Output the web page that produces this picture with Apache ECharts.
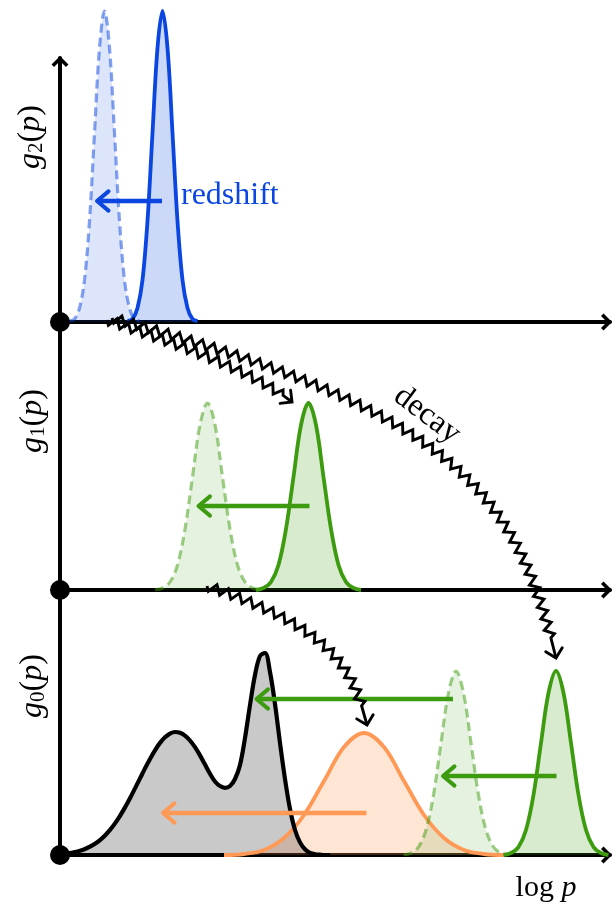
<!DOCTYPE html>
<html><head><meta charset="utf-8">
<script src="https://cdn.jsdelivr.net/npm/echarts@6/dist/echarts.min.js"></script>
<style>html,body{margin:0;padding:0;background:#fff}#c{width:616px;height:905px}</style>
</head><body><div id="c"></div>
<script>
// ---------- data (x: log p, arbitrary units 0..110 ; y: g(p), arbitrary units) ----------
// top panel g2(p)
const blueOldX = [1.9,2.9,3.9,4.9,5.9,6.9,7.9,8.9,9.9,10.9,11.9,12.9,13.9,14.9,15.9];
const blueOldY = [0.01,0.03,0.14,0.42,1.01,1.89,2.74,3.11,2.74,1.89,1.01,0.42,0.14,0.03,0.01];
const blueNewX = [13.5,14.5,15.5,16.5,17.5,18.5,19.5,20.5,21.5,22.5,23.5,24.5,25.5,26.5,27.5];
const blueNewY = [0.01,0.03,0.14,0.42,1.01,1.89,2.74,3.11,2.74,1.89,1.01,0.42,0.14,0.03,0.01];
// middle panel g1(p)
const greenMidOldX = [19.0,20.5,22.0,23.5,25.0,26.5,28.0,29.5,31.0,32.5,34.0,35.5,37.0,38.5,40.0];
const greenMidOldY = [0.00,0.02,0.08,0.25,0.61,1.13,1.65,1.87,1.65,1.13,0.61,0.25,0.08,0.02,0.00];
const greenMidNewX = [39.2,40.7,42.2,43.7,45.2,46.7,48.2,49.7,51.2,52.7,54.2,55.7,57.2,58.7,60.2];
const greenMidNewY = [0.00,0.02,0.08,0.25,0.61,1.13,1.65,1.87,1.65,1.13,0.61,0.25,0.08,0.02,0.00];
// bottom panel g0(p)
const blackX = [0,1,2,3,4,5,6,7,8,9,10,11,12,13,14,15,16,17,18,19,20,21,22,23,24,25,26,27,28,29,30,31,32,33,34,35,36,37,38,39,40,41,42,43,44,45,46,47,48,49,50,51,52,53,54];
const blackY = [0.01,0.014,0.02,0.029,0.042,0.06,0.083,0.112,0.149,0.195,0.251,0.316,0.391,0.476,0.568,0.666,0.766,0.866,0.961,1.047,1.121,1.177,1.214,1.23,1.223,1.194,1.145,1.078,0.996,0.904,0.812,0.735,0.69,0.672,0.69,0.76,0.9,1.17,1.5,1.8,1.99,2.02,1.83,1.51,1.12,0.76,0.46,0.25,0.126,0.057,0.022,0.008,0.003,0.00,0.00];
const orangeX = [32.8,36.8,40.8,44.8,48.8,52.8,56.8,60.8,64.8,68.8,72.8,76.8,80.8,84.8,88.8];
const orangeY = [0.00,0.01,0.05,0.17,0.40,0.74,1.08,1.22,1.08,0.74,0.40,0.17,0.05,0.01,0.00];
const greenBotOldX = [68.7,70.2,71.7,73.2,74.7,76.2,77.7,79.2,80.7,82.2,83.7,85.2,86.7,88.2,89.7];
const greenBotOldY = [0.00,0.02,0.08,0.25,0.60,1.12,1.62,1.84,1.62,1.12,0.60,0.25,0.08,0.02,0.00];
const greenBotNewX = [88.7,90.2,91.7,93.2,94.7,96.2,97.7,99.2,100.7,102.2,103.7,105.2,106.7,108.2,109.7];
const greenBotNewY = [0.00,0.02,0.08,0.25,0.60,1.12,1.62,1.84,1.62,1.12,0.60,0.25,0.08,0.02,0.00];
// shift arrows [fromX, fromY, toX, toY] in panel units
const arrowsTop = [[20.4,1.21,7.4,1.21]];
const arrowsMid = [[49.9,0.84,27.7,0.84]];
const arrowsBotGreen = [[78.6,1.56,39.3,1.56],[99.3,0.79,76.6,0.79]];
const arrowsBotOrange = [[61.3,0.42,20.6,0.42]];
// decay arrows: cubic curves [x0,y0,x1,y1,x2,y2,x3,y3] in the full-height frame (y = 0 at g0 axis)
const decayArrows = [
  [9.4,5.35, 24,5.10, 39,4.83, 46.4,4.53],
  [10.4,5.37, 78,4.45, 91,3.67, 99.2,1.97],
  [29.4,2.69, 54,2.27, 58.4,1.90, 61.4,1.30]
];
const origin = [[0,0]];
const labels = { g2: '{i|g}{s|2}{n|(}{i|p}{n|)}', g1: '{i|g}{s|1}{n|(}{i|p}{n|)}', g0: '{i|g}{s|0}{n|(}{i|p}{n|)}' };

// ---------- styles ----------
const BLUE = '#0b46e0', GREEN = '#3d9b0f', ORANGE = '#ff9955';
const FONT = 'Liberation Serif';
const chevron = 'path://M8,0 L16,8 L13.6,10.4 L8,4.8 L2.4,10.4 L0,8 Z';
const zip = (xs, ys) => xs.map((x, i) => [x, ys[i]]);
function rgba(hex, a) {
  const n = parseInt(hex.slice(1), 16);
  return 'rgba(' + (n >> 16) + ',' + ((n >> 8) & 255) + ',' + (n & 255) + ',' + a + ')';
}
function curve(idx, xs, ys, color, dashed, fillAlpha, lineColor, width) {
  return {
    type: 'line', xAxisIndex: idx, yAxisIndex: idx, data: zip(xs, ys),
    smooth: 0.35, symbol: 'none', silent: true, animation: false,
    lineStyle: { color: lineColor || (dashed ? rgba(color, 0.5) : color), width: width || (dashed ? 3.2 : 3.8), type: dashed ? [9, 5] : 'solid' },
    areaStyle: { color: rgba(color, fillAlpha), opacity: 1 }
  };
}
function straightArrow(params, api) {
  const a = api.coord([api.value(0), api.value(1)]);
  const b = api.coord([api.value(2), api.value(3)]);
  const color = api.visual('color');
  let dx = b[0] - a[0], dy = b[1] - a[1];
  const len = Math.hypot(dx, dy); dx /= len; dy /= len;
  const L = 15, ang = 40 * Math.PI / 180;
  const c = Math.cos(ang), s = Math.sin(ang);
  const arm1 = [b[0] - L * (dx * c - dy * s), b[1] - L * (dy * c + dx * s)];
  const arm2 = [b[0] - L * (dx * c + dy * s), b[1] - L * (dy * c - dx * s)];
  return { type: 'group', children: [
    { type: 'line', shape: { x1: a[0], y1: a[1], x2: b[0] - dx * 2, y2: b[1] - dy * 2 }, style: { stroke: color, lineWidth: 4.5, lineCap: 'butt' } },
    { type: 'polyline', shape: { points: [arm1, b, arm2] }, style: { stroke: color, fill: null, lineWidth: 4, lineCap: 'round', lineJoin: 'round' } }
  ]};
}
function zigzagArrow(params, api) {
  const P = [0, 1, 2, 3].map(i => api.coord([api.value(2 * i), api.value(2 * i + 1)]));
  const N = 400, pts = [], cum = [0];
  for (let i = 0; i <= N; i++) {
    const t = i / N, u = 1 - t;
    const w = [u * u * u, 3 * u * u * t, 3 * u * t * t, t * t * t];
    pts.push([w[0]*P[0][0]+w[1]*P[1][0]+w[2]*P[2][0]+w[3]*P[3][0], w[0]*P[0][1]+w[1]*P[1][1]+w[2]*P[2][1]+w[3]*P[3][1]]);
    if (i > 0) cum.push(cum[i - 1] + Math.hypot(pts[i][0] - pts[i - 1][0], pts[i][1] - pts[i - 1][1]));
  }
  const total = cum[N];
  function at(sd, off) {
    let j = 1; while (j < N && cum[j] < sd) j++;
    const f = (sd - cum[j - 1]) / Math.max(1e-6, cum[j] - cum[j - 1]);
    const x = pts[j - 1][0] + f * (pts[j][0] - pts[j - 1][0]);
    const y = pts[j - 1][1] + f * (pts[j][1] - pts[j - 1][1]);
    let tx = pts[j][0] - pts[j - 1][0], ty = pts[j][1] - pts[j - 1][1];
    const tl = Math.hypot(tx, ty) || 1; tx /= tl; ty /= tl;
    return [x - ty * off, y + tx * off];
  }
  const seg = 12, amp = 4.5, post = 9;
  const zz = [P[0]];
  for (let k = 0; ; k++) {
    if ((k + 1) * seg > total - post) break;
    zz.push(at((k + 0.25) * seg, amp), at((k + 0.75) * seg, -amp), at((k + 1) * seg, 0));
  }
  const tip = P[3];
  zz.push(tip);
  const pre = at(total - 4, 0);
  let dx = tip[0] - pre[0], dy = tip[1] - pre[1];
  const dl = Math.hypot(dx, dy); dx /= dl; dy /= dl;
  const L = 12, c = Math.cos(Math.PI / 4), s = Math.sin(Math.PI / 4);
  const arm1 = [tip[0] - L * (dx * c - dy * s), tip[1] - L * (dy * c + dx * s)];
  const arm2 = [tip[0] - L * (dx * c + dy * s), tip[1] - L * (dy * c - dx * s)];
  return { type: 'group', children: [
    { type: 'polyline', shape: { points: zz }, style: { stroke: '#000', fill: null, lineWidth: 2.9, lineJoin: 'miter' } },
    { type: 'polyline', shape: { points: [arm1, tip, arm2] }, style: { stroke: '#000', fill: null, lineWidth: 2.9, lineCap: 'round', lineJoin: 'miter' } }
  ]};
}
function arrowSeries(idx, arr, color) {
  return { type: 'custom', xAxisIndex: idx, yAxisIndex: idx, renderItem: straightArrow, z: 4, silent: true, animation: false,
    dimensions: ['x0', 'y0', 'x1', 'y1'], encode: { x: [0, 2], y: [1, 3] },
    itemStyle: { color: color }, data: arr };
}
function dotSeries(idx) {
  return { type: 'scatter', xAxisIndex: idx, yAxisIndex: idx, data: origin, symbolSize: 20, z: 10, silent: true, animation: false,
    itemStyle: { color: '#000', opacity: 1 } };
}
const axisLine = { show: true, onZero: false, lineStyle: { color: '#000', width: 4 },
  symbol: ['none', chevron], symbolSize: [17, 11], symbolOffset: [0, -3.5] };
function xAx(show) {
  return { type: 'value', min: 0, max: 110, show: show, axisLine: axisLine,
    axisTick: { show: false }, axisLabel: { show: false }, splitLine: { show: false } };
}
function yAx(max, show) {
  return { type: 'value', min: 0, max: max, show: show, axisLine: axisLine,
    axisTick: { show: false }, axisLabel: { show: false }, splitLine: { show: false } };
}
const labelRich = {
  i: { fontFamily: FONT, fontStyle: 'italic', fontSize: 32, color: '#000' },
  n: { fontFamily: FONT, fontSize: 32, color: '#000' },
  s: { fontFamily: FONT, fontSize: 21, color: '#000', verticalAlign: 'bottom' }
};
const logRich = {
  i: { fontFamily: FONT, fontStyle: 'italic', fontSize: 30, color: '#000' },
  n: { fontFamily: FONT, fontSize: 30, color: '#000' }
};
function gLabel(text, x, y) {
  return { type: 'text', x: x, y: y, rotation: Math.PI / 2, z: 20,
    style: { text: text, rich: labelRich, align: 'center', verticalAlign: 'middle' } };
}

const chart = echarts.init(document.getElementById('c'), null, { renderer: 'canvas' });
chart.setOption({
  animation: false,
  backgroundColor: '#fff',
  grid: [
    { left: 60, right: 6, top: 58, bottom: 50 },
    { left: 60, right: 6, top: 0, bottom: 583 },
    { left: 60, right: 6, top: 322, bottom: 315 },
    { left: 60, right: 6, top: 590, bottom: 50 }
  ],
  xAxis: [
    Object.assign(xAx(false), { gridIndex: 0 }),
    Object.assign(xAx(true), { gridIndex: 1 }),
    Object.assign(xAx(true), { gridIndex: 2 }),
    Object.assign(xAx(true), { gridIndex: 3 })
  ],
  yAxis: [
    Object.assign(yAx(7.97, true), { gridIndex: 0 }),
    Object.assign(yAx(3.22, false), { gridIndex: 1 }),
    Object.assign(yAx(2.68, false), { gridIndex: 2 }),
    Object.assign(yAx(2.65, false), { gridIndex: 3 })
  ],
  series: [
    curve(1, blueOldX, blueOldY, BLUE, true, 0.14),
    curve(1, blueNewX, blueNewY, BLUE, false, 0.21),
    arrowSeries(1, arrowsTop, BLUE),
    dotSeries(1),
    curve(2, greenMidOldX, greenMidOldY, GREEN, true, 0.13),
    curve(2, greenMidNewX, greenMidNewY, GREEN, false, 0.2),
    arrowSeries(2, arrowsMid, GREEN),
    dotSeries(2),
    curve(3, orangeX, orangeY, ORANGE, false, 0.25),
    curve(3, greenBotOldX, greenBotOldY, GREEN, true, 0.13),
    curve(3, blackX, blackY, '#000000', false, 0.21, '#000', 4.2),
    curve(3, greenBotNewX, greenBotNewY, GREEN, false, 0.2),
    arrowSeries(3, arrowsBotGreen, GREEN),
    arrowSeries(3, arrowsBotOrange, ORANGE),
    dotSeries(3),
    { type: 'custom', xAxisIndex: 0, yAxisIndex: 0, renderItem: zigzagArrow, z: 6, silent: true, animation: false,
      dimensions: ['x0','y0','x1','y1','x2','y2','x3','y3'], encode: { x: [0, 2, 4, 6], y: [1, 3, 5, 7] },
      data: decayArrows }
  ],
  graphic: [
    gLabel(labels.g2, 31, 137),
    gLabel(labels.g1, 33, 421),
    gLabel(labels.g0, 33, 686),
    { type: 'text', x: 181, y: 196, z: 20, style: { text: 'redshift', fill: BLUE, font: '32px "Liberation Serif"', align: 'left', verticalAlign: 'middle' } },
    { type: 'text', x: 427, y: 415, rotation: -37 * Math.PI / 180, z: 20, style: { text: 'decay', fill: '#000', font: '32px "Liberation Serif"', align: 'center', verticalAlign: 'middle' } },
    { type: 'text', x: 546, y: 888, z: 20, style: { text: '{n|log }{i|p}', rich: logRich, align: 'center', verticalAlign: 'middle' } }
  ]
});
</script></body></html>
